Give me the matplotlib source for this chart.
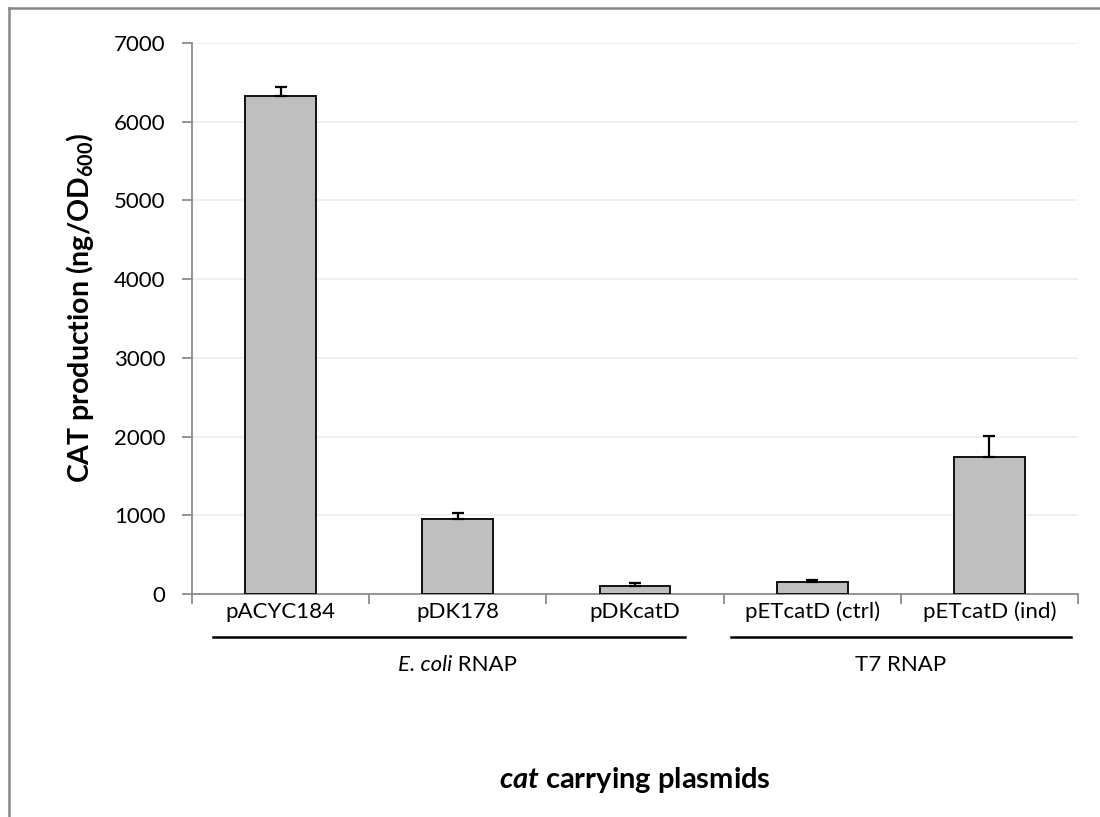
import matplotlib
matplotlib.use("Agg")
import matplotlib.pyplot as plt
from matplotlib.lines import Line2D

categories = ["pACYC184", "pDK178", "pDKcatD", "pETcatD (ctrl)", "pETcatD (ind)"]
values = [6325, 948, 100, 147, 1735]
errors = [110, 77, 38, 30, 275]
yticks = [0, 1000, 2000, 3000, 4000, 5000, 6000, 7000]
# (italic part, upright part)
groups = [("E. coli", " RNAP"), ("", "T7 RNAP")]
group_centers = [1.0, 3.5]
group_lines = [(-0.38, 2.28), (2.54, 4.46)]

FONT = "Lato"
plt.rcParams["font.family"] = [FONT, "DejaVu Sans"]
plt.rcParams["mathtext.fontset"] = "custom"
plt.rcParams["mathtext.rm"] = FONT
plt.rcParams["mathtext.it"] = FONT + ":italic"
plt.rcParams["mathtext.bf"] = FONT + ":bold"
plt.rcParams["mathtext.bfit"] = FONT + ":bold:italic"

W, H = 1100, 817
fig = plt.figure(figsize=(W / 100, H / 100), dpi=100)
L, R, T, B = 192, 1078, 43, 594
ax = fig.add_axes([L / W, 1 - B / H, (R - L) / W, (B - T) / H])

# outer frame (cropped: only left and top edges visible)
fx, fy = 8.7 / W, 1 - 7.5 / H
fig.add_artist(Line2D([fx, fx], [0, fy], transform=fig.transFigure, color="#878787", linewidth=1.8))
fig.add_artist(Line2D([fx, 1], [fy, fy], transform=fig.transFigure, color="#878787", linewidth=1.8))

x = list(range(len(categories)))
ax.bar(x, values, width=0.40, color="#BFBFBF", edgecolor="#111111", linewidth=1.4, zorder=3)
ax.errorbar(x, values, yerr=[[0] * len(errors), errors], fmt="none", ecolor="#000000",
            elinewidth=1.6, capsize=4.3, capthick=1.6, zorder=4)

ax.set_xlim(-0.5, len(categories) - 0.5)
ax.set_ylim(0, 7000)
ax.set_yticks(yticks)
ax.set_yticklabels([str(v) for v in yticks], fontsize=16)
ax.yaxis.grid(True, color="#EFEFEF", linewidth=1.3, zorder=0)
ax.set_axisbelow(True)

for s in ["top", "right"]:
    ax.spines[s].set_visible(False)
for s in ["left", "bottom"]:
    ax.spines[s].set_color("#8C8C8C")
    ax.spines[s].set_linewidth(1.3)

ax.set_xticks([i - 0.5 for i in range(len(categories) + 1)])
ax.set_xticklabels([])
ax.tick_params(axis="x", length=7, color="#8C8C8C", width=1.3)
ax.tick_params(axis="y", length=7, color="#8C8C8C", width=1.3, pad=12)

for i, c in enumerate(categories):
    ax.text(i, -18 / 78.7 * 1000, c, ha="center", va="center", fontsize=16)

fig.canvas.draw()
renderer = fig.canvas.get_renderer()
gy = -71 / 78.7 * 1000
for (it, up), gc, (x0, x1) in zip(groups, group_centers, group_lines):
    ax.add_line(Line2D([x0, x1], [-43 / 78.7 * 1000] * 2, color="black", linewidth=1.8, clip_on=False))
    if it:
        t1 = ax.text(0, gy, it, ha="left", va="center", fontsize=16, style="italic")
        t2 = ax.text(0, gy, up, ha="left", va="center", fontsize=16)
        w1 = t1.get_window_extent(renderer).width
        w2 = t2.get_window_extent(renderer).width
        cx = ax.transData.transform((gc, gy))[0]
        start = cx - (w1 + w2) / 2
        t1.set_x(ax.transData.inverted().transform((start, 0))[0])
        t2.set_x(ax.transData.inverted().transform((start + w1, 0))[0])
    else:
        ax.text(gc, gy, up, ha="center", va="center", fontsize=16)

ax.set_ylabel(r"CAT production (ng/OD$_{\mathbf{600}}$)", fontsize=20.5, fontweight="bold")
ax.yaxis.set_label_coords(-0.108, 0.52)
fig.text(635 / W, 1 - 780 / H, r"$\mathbfit{cat}$ carrying plasmids", ha="center", va="center",
         fontsize=21, fontweight="bold")

fig.savefig("out.png", dpi=100)
